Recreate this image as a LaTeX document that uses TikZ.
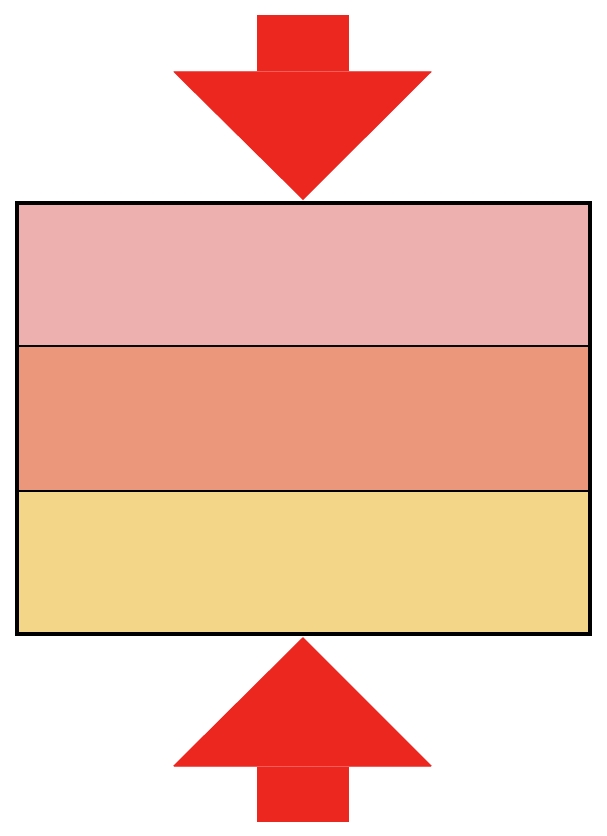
\documentclass[tikz,border=0pt]{standalone}
\definecolor{arrowred}{HTML}{EC2720}
\definecolor{layerpink}{HTML}{EEB0AE}
\definecolor{layerorange}{HTML}{EA977C}
\definecolor{layeryellow}{HTML}{F3D688}
\begin{document}
\begin{tikzpicture}[x=1pt,y=-1pt,
  arrowpart/.style={fill=arrowred,draw=none},
  seam/.style={draw=arrowred!75!white,line width=0.8pt}]
\useasboundingbox (0,0) rectangle (606,836);
% top arrow
\fill[arrowpart] (257,15) rectangle (349,71);
\fill[arrowpart] (173,71.5) -- (432,71.5) -- (303,200) -- cycle;
\draw[seam] (174,71.2) -- (431,71.2);
% layers
\fill[layerpink] (17,203) rectangle (590,346);
\fill[layerorange] (17,346) rectangle (590,491);
\fill[layeryellow] (17,491) rectangle (590,634);
\draw[line width=1.5pt] (17,346) -- (590,346);
\draw[line width=1.5pt] (17,491) -- (590,491);
\draw[line width=4pt] (17,203) rectangle (590,634);
% bottom arrow
\fill[arrowpart] (173,766) -- (432,766) -- (303,637) -- cycle;
\fill[arrowpart] (257,766.5) rectangle (349,822);
\draw[seam] (174,766.3) -- (431,766.3);
\end{tikzpicture}
\end{document}
